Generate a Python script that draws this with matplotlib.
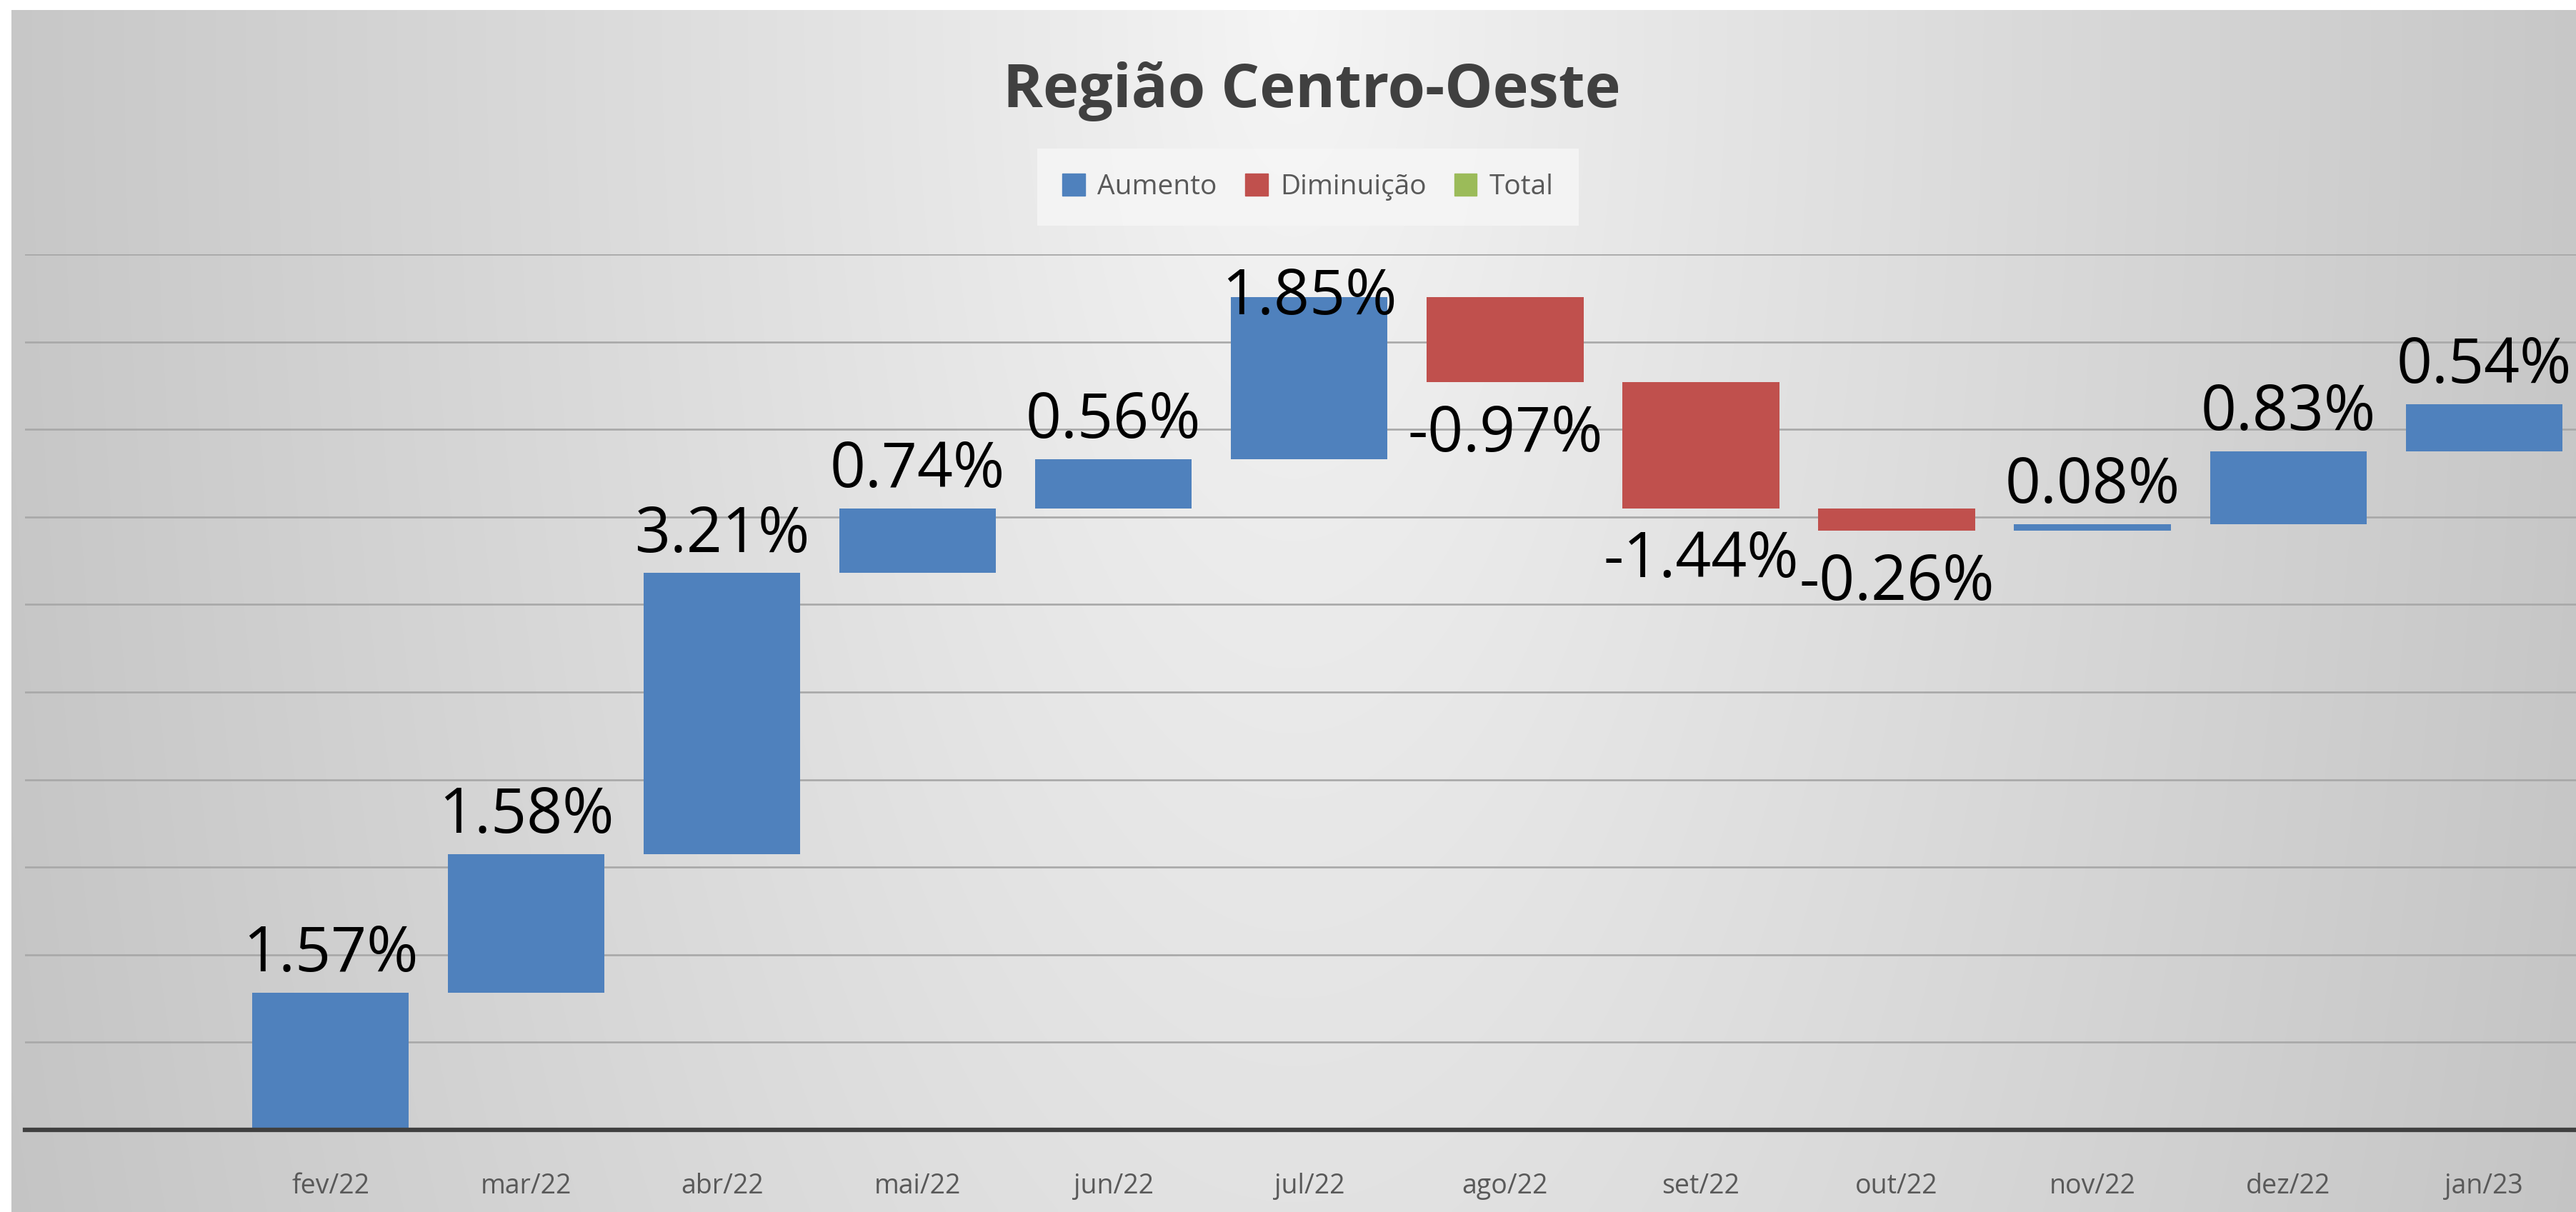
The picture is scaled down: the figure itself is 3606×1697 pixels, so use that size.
import numpy as np
import matplotlib
matplotlib.use("Agg")
import matplotlib.pyplot as plt
from matplotlib.patches import Patch

# data
months = ["fev/22", "mar/22", "abr/22", "mai/22", "jun/22", "jul/22",
          "ago/22", "set/22", "out/22", "nov/22", "dez/22", "jan/23"]
changes = [1.57, 1.58, 3.21, 0.74, 0.56, 1.85,
           -0.97, -1.44, -0.26, 0.08, 0.83, 0.54]

BLUE, RED, GREEN = "#4F81BD", "#C0504D", "#9BBB59"
FONT = "Open Sans"
plt.rcParams["font.family"] = [FONT, "DejaVu Sans"]

W, H = 3606, 1697
fig = plt.figure(figsize=(W / 100, H / 100), dpi=100)
fig.patch.set_facecolor("white")

# chart area with grey gradient (lighter toward top centre)
bg = fig.add_axes([16 / W, 0, 1 - 16 / W, 1 - 14 / H], zorder=-2)
gx, gy = np.meshgrid(np.linspace(-1, 1, 600), np.linspace(0, 1, 300))
r = np.sqrt(gx ** 2 + (gy / 2.6) ** 2)
shade = np.clip(0.962 - 0.18 * r ** 0.9, 0, 1)
bg.imshow(np.dstack([shade] * 3), aspect="auto", extent=(0, 1, 1, 0),
          interpolation="bilinear")
bg.set_axis_off()

# waterfall
vals = np.array(changes)
ends = np.cumsum(vals)
starts = ends - vals
bottoms = np.minimum(starts, ends)
heights = np.abs(vals)
x = np.arange(len(months))
colors = [BLUE if v >= 0 else RED for v in vals]

ax = fig.add_axes([35 / W, 115 / H, 1 - 35 / W, (1582 - 356) / H])
ax.set_facecolor("none")
ax.bar(x, heights, bottom=bottoms, width=0.8, color=colors, zorder=3)

ax.set_xlim(-1.56, 11.47)
ax.set_ylim(0, 10)
ax.set_yticks(np.arange(0, 11, 1))
ax.yaxis.grid(True, color="#a8a8a8", lw=1.9, zorder=1)
ax.tick_params(axis="y", left=False, labelleft=False)
ax.tick_params(axis="x", bottom=False, pad=40, labelsize=27, labelcolor="#595959")
ax.set_xticks(x)
ax.set_xticklabels(months)
for s in ["top", "right", "left"]:
    ax.spines[s].set_visible(False)
ax.spines["bottom"].set_color("#404040")
ax.spines["bottom"].set_linewidth(4.5)
ax.spines["bottom"].set_zorder(4)

# data labels
for xi, v, lo, hi in zip(x, vals, bottoms, bottoms + heights):
    txt = f"{v:.2f}%"
    if v >= 0:
        y = min(hi + 0.43, 9.5)
        ax.text(xi, y, txt, ha="center", va="center", fontsize=63,
                color="black", zorder=5, clip_on=False)
    else:
        ax.text(xi, lo - 0.6, txt, ha="center", va="center", fontsize=63,
                color="black", zorder=5, clip_on=False)

# title and legend
fig.text(1836 / W, 1 - 128 / H, "Região Centro-Oeste", ha="center", va="center",
         fontsize=61, fontweight="bold", color="#404040")
handles = [Patch(color=BLUE, label="Aumento"),
           Patch(color=RED, label="Diminuição"),
           Patch(color=GREEN, label="Total")]
leg = fig.legend(handles=handles, ncol=3, loc="center",
                 bbox_to_anchor=(1831 / W, 1 - 262 / H), fontsize=28,
                 frameon=True, facecolor="#f6f6f6", edgecolor="none",
                 framealpha=0.8, fancybox=False, handlelength=0.82,
                 handleheight=0.82, handletextpad=0.45, columnspacing=1.0,
                 borderpad=0.9)
for t in leg.get_texts():
    t.set_color("#595959")

fig.savefig("out.png", dpi=100)
